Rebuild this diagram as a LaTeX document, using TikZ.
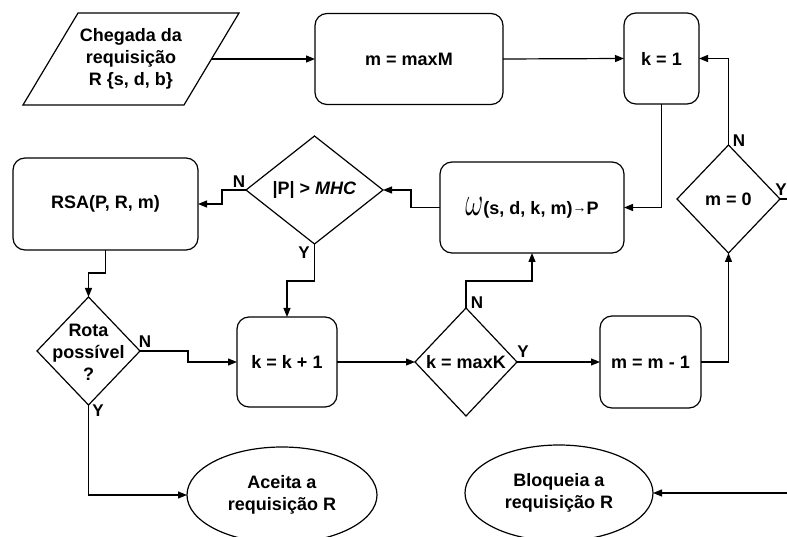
\documentclass[tikz,border=0pt]{standalone}
\usepackage{graphicx}
\usepackage{fontspec}
\setmainfont{Liberation Sans}
\usetikzlibrary{arrows.meta,shapes.geometric,calc}
\begin{document}
\begin{tikzpicture}[x=1pt,y=-1pt,
  every node/.style={font=\bfseries\fontsize{18}{22}\selectfont},
  box/.style={draw,line width=1.2pt,rounded corners=12pt,inner sep=0pt,outer sep=0pt,align=center},
  dia/.style={draw,line width=1.2pt,diamond,inner sep=0pt,outer sep=0pt},
  ell/.style={draw,line width=1.2pt,ellipse,inner sep=0pt,outer sep=0pt,align=center},
  txt/.style={inner sep=0pt,outer sep=0pt,align=center},
  lab/.style={inner sep=0pt,font=\bfseries\fontsize{17}{17}\selectfont},
  conn/.style={line width=1.2pt,-{Triangle[length=9pt,width=7pt]}},
  plainline/.style={line width=1.2pt},
]
\useasboundingbox (0,0) rectangle (787,537);
\clip (0,0) rectangle (787,537);

% start parallelogram
\node[txt,minimum width=161,minimum height=92] (start) at (131,59) {Chegada da\\requisição\\ R \{s, d, b\}};
\draw[plainline] ([xshift=27.5pt]start.north west) -- ([xshift=27.5pt]start.north east)
  -- ([xshift=-27.5pt]start.south east) -- ([xshift=-27.5pt]start.south west) -- cycle;

% boxes
\node[box,minimum width=188,minimum height=91] (maxM) at (409,59) {m = maxM};
\node[box,minimum width=75,minimum height=91] (k1) at (661.5,58.5) {k = 1};
\node[box,minimum width=184,minimum height=91] (omega) at (532,207.5)
  {\raisebox{-1pt}{\resizebox{18pt}{18pt}{$\omega$}}(s, d, k, m)\raisebox{2pt}{\fontsize{14}{14}\selectfont →}P};
\node[box,minimum width=185,minimum height=92] (rsa) at (105.5,204) {RSA(P, R, m)};
\node[box,minimum width=100,minimum height=90] (kk1) at (287,362) {k = k + 1};
\node[box,minimum width=101,minimum height=92] (mm1) at (650.5,362) {m = m - 1};

% diamonds
\node[dia,minimum width=137,minimum height=108] (mhc) at (314.5,190) {};
\node[txt] (mhct) at (314.5,190) {|P| > \textit{MHC}};
\node[dia,minimum width=103,minimum height=108] (m0) at (728.5,199) {};
\node[txt] (m0t) at (728.5,199) {m = 0};
\node[dia,minimum width=103,minimum height=108] (rota) at (88.5,351) {};
\node[txt] (rotat) at (88.5,352) {Rota\\possível\\?};
\node[dia,minimum width=102,minimum height=108] (maxk) at (466,362) {};
\node[txt] (maxkt) at (466,362) {k = maxK};

% ellipses
\node[ell,minimum width=190,minimum height=96] (aceita) at (282,495) {Aceita a\\requisição R};
\node[ell,minimum width=188,minimum height=96] (bloq) at (559,493) {Bloqueia a\\requisição R};

% free ends
\coordinate (out1) at (787,199);
\coordinate (in1) at (787,493);

% connectors
\draw[conn] (start.east) -- (maxM.west);
\draw[conn] (maxM.east) -- (k1.west);
\draw[conn] (k1.south) |- (omega.east);
\draw[conn] (omega.west) -- ++(-29,0) |- (mhc.east);
\draw[conn] (mhc.west) -- ++(-24,0) |- (rsa.east);
\draw[conn] (rsa.south) -- ++(0,23) -| (rota.north);
\draw[conn] (rota.east) -- ++(48,0) |- (kk1.west);
\draw[conn] (mhc.south) -- ++(0,37) -| (kk1.north);
\draw[conn] (kk1.east) -- (maxk.west);
\draw[conn] (maxk.north) -- ++(0,-27) -| (omega.south);
\draw[conn] (maxk.east) -- (mm1.west);
\draw[conn] (mm1.east) -| (m0.south);
\draw[conn] (m0.north) |- (k1.east);
\draw[plainline] (m0.east) -- (out1);
\draw[conn] (rota.south) |- (aceita.west);
\draw[conn] (in1) -- (bloq.east);

% labels
\node[lab] (lN1) at (239,182) {N};
\node[lab] (lY1) at (304,253) {Y};
\node[lab] (lN2) at (739,141) {N};
\node[lab] (lY2) at (781,190) {Y};
\node[lab] (lN3) at (145,342) {N};
\node[lab] (lY3) at (98,411) {Y};
\node[lab] (lN4) at (477,303) {N};
\node[lab] (lY4) at (523,352) {Y};
\end{tikzpicture}
\end{document}
